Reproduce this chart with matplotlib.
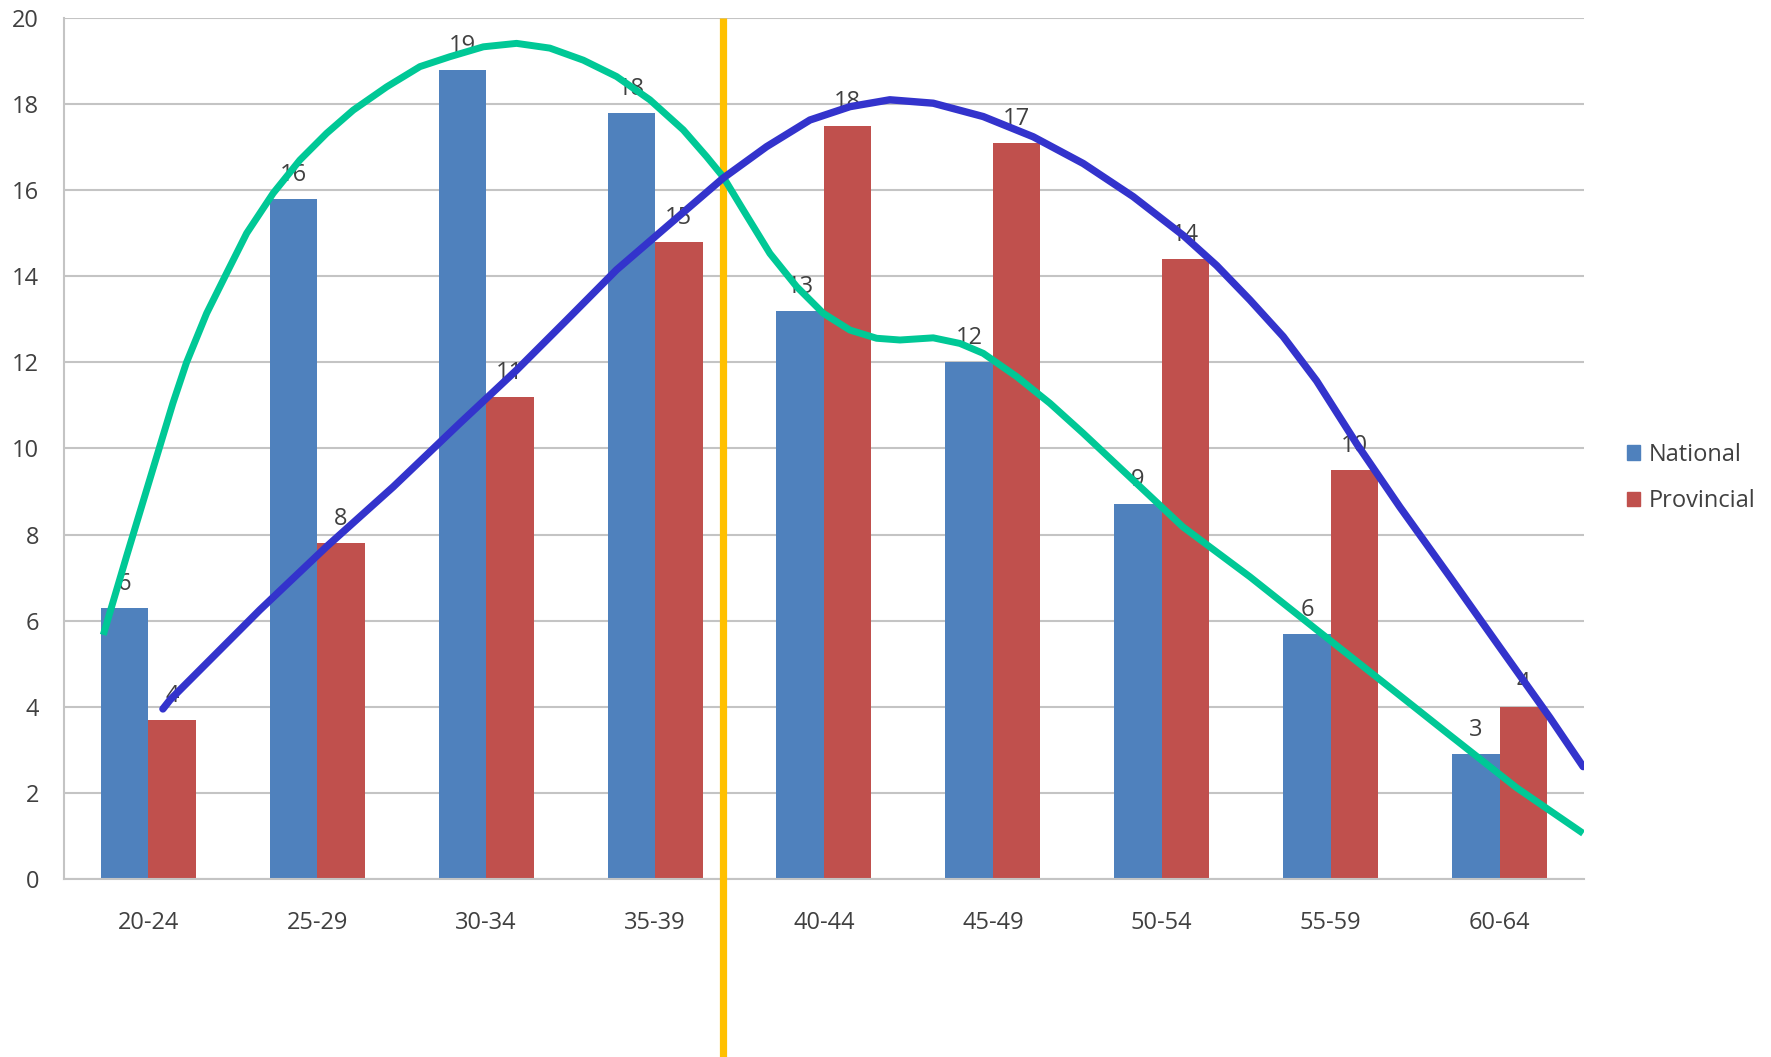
import numpy as np
import matplotlib.pyplot as plt
from matplotlib.patches import Patch

plt.rcParams['font.family'] = ['Open Sans', 'DejaVu Sans']

# age bands and the share in each band
age_groups = ['20-24', '25-29', '30-34', '35-39', '40-44', '45-49', '50-54', '55-59', '60-64']
national = [6.3, 15.8, 18.8, 17.8, 13.2, 12.0, 8.7, 5.7, 2.9]
provincial = [3.7, 7.8, 11.2, 14.8, 17.5, 17.1, 14.4, 9.5, 4.0]

# freehand trend curves sketched over the bars (x in category units)
green_x = [-0.267, -0.129, 0.029, 0.145, 0.226, 0.345, 0.463, 0.582, 0.739, 0.897,
           1.055, 1.213, 1.411, 1.608, 1.785, 1.983, 2.180, 2.377, 2.575, 2.772,
           2.969, 3.167, 3.305, 3.403, 3.522, 3.680, 3.838, 3.996, 4.154, 4.312,
           4.450, 4.647, 4.805, 4.943, 5.141, 5.338, 5.533, 5.829, 6.125, 6.522,
           6.917, 7.311, 7.706, 8.101, 8.495]
green_y = [5.67, 7.50, 9.55, 11.05, 12.00, 13.14, 14.07, 15.00, 15.93, 16.70,
           17.32, 17.86, 18.40, 18.87, 19.10, 19.33, 19.41, 19.30, 19.02, 18.64,
           18.10, 17.40, 16.78, 16.31, 15.54, 14.53, 13.76, 13.14, 12.75, 12.56,
           12.52, 12.57, 12.44, 12.21, 11.67, 11.05, 10.36, 9.27, 8.18, 7.02,
           5.79, 4.57, 3.34, 2.12, 1.06]

blue_x = [0.086, 0.128, 0.660, 1.055, 1.450, 1.845, 2.180, 2.476, 2.772, 3.068,
          3.403, 3.660, 3.917, 4.154, 4.390, 4.647, 4.943, 5.239, 5.535, 5.831,
          6.127, 6.325, 6.522, 6.719, 6.917, 7.154, 7.410, 7.706, 8.002, 8.298, 8.495]
blue_y = [3.95, 4.16, 6.25, 7.72, 9.11, 10.59, 11.82, 12.98, 14.15, 15.15,
          16.28, 17.01, 17.63, 17.94, 18.10, 18.02, 17.71, 17.24, 16.62, 15.85,
          14.95, 14.25, 13.45, 12.60, 11.57, 10.11, 8.64, 7.02, 5.38, 3.75, 2.61]

divider_x = 3.40

text_color = '#404040'
fs = 17

fig = plt.figure(figsize=(17.71, 10.57), dpi=100)
ax = fig.add_axes([0.0361, 0.1684, 0.8583, 0.8146])

x = np.arange(len(age_groups))
w = 0.281
b1 = ax.bar(x - w / 2, national, w, color='#4F81BD', label='National', zorder=2)
b2 = ax.bar(x + w / 2, provincial, w, color='#C0504D', label='Provincial', zorder=2)

for bars, vals in [(b1, national), (b2, provincial)]:
    for r, v in zip(bars, vals):
        ax.annotate('%.0f' % v, (r.get_x() + r.get_width() / 2, v),
                    xytext=(0, 13), textcoords='offset points',
                    ha='center', va='baseline', fontsize=fs, color=text_color, zorder=3)

ax.plot([divider_x, divider_x], [20, -4.2], color='#FFC000', lw=5.2,
        clip_on=False, zorder=4, solid_capstyle='butt')
ax.plot(green_x, green_y, color='#00C896', lw=5.0, zorder=5,
        solid_capstyle='butt', solid_joinstyle='round')
ax.plot(blue_x, blue_y, color='#3333CC', lw=5.3, zorder=5,
        solid_capstyle='round', solid_joinstyle='round')

ax.set_xlim(-0.5, 8.5)
ax.set_ylim(0, 20)
ax.set_yticks(range(0, 21, 2))
ax.set_xticks(x)
ax.set_xticklabels(age_groups)
ax.tick_params(axis='both', length=0, labelsize=fs, labelcolor=text_color)
ax.tick_params(axis='x', pad=23)
ax.tick_params(axis='y', pad=18)
ax.yaxis.grid(True, color='#C4C4C4', lw=1.5, zorder=0)
ax.set_axisbelow(True)
for s in ['top', 'right']:
    ax.spines[s].set_visible(False)
for s in ['left', 'bottom']:
    ax.spines[s].set_color('#C4C4C4')
    ax.spines[s].set_linewidth(1.5)

handles = [Patch(color='#4F81BD', label='National'),
           Patch(color='#C0504D', label='Provincial')]
fig.legend(handles=handles, loc='upper left', bbox_to_anchor=(0.9185, 0.581),
           frameon=False, fontsize=fs, labelcolor=text_color,
           handlelength=0.55, handleheight=0.55, handletextpad=0.4,
           labelspacing=0.95, borderpad=0, borderaxespad=0)

fig.savefig('out.png', dpi=100)
